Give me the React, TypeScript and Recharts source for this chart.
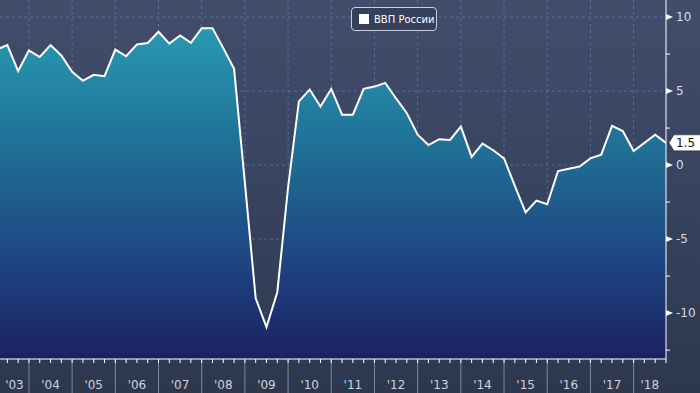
import React from "react";
import { AreaChart, Area, XAxis, YAxis, CartesianGrid, ReferenceDot } from "recharts";

// quarterly GDP growth, y/y %, first value is the quarter ending 2003.25
const firstQuarterEnd = 2003.25;
const gdp = [
  7.8, 8.1, 6.35,
  7.75, 7.3, 8.1, 7.4,
  6.3, 5.7, 6.1, 6.0,
  7.8, 7.35, 8.15, 8.25,
  9.0, 8.2, 8.75, 8.25,
  9.25, 9.25, 7.9, 6.5,
  -1.2, -9.0, -10.95, -8.6,
  -1.5, 4.3, 5.1, 3.95,
  5.15, 3.4, 3.4, 5.15,
  5.3, 5.55, 4.5, 3.5,
  2.05, 1.35, 1.75, 1.7,
  2.6, 0.55, 1.45, 1.0,
  0.45, -1.4, -3.2, -2.4,
  -2.65, -0.4, -0.25, -0.1,
  0.45, 0.7, 2.65, 2.3,
  0.95, 1.5, 2.05, 1.5,
];

const years = [2003, 2004, 2005, 2006, 2007, 2008, 2009, 2010, 2011, 2012, 2013, 2014, 2015, 2016, 2017, 2018];
const yearLabels = ["'03", "'04", "'05", "'06", "'07", "'08", "'09", "'10", "'11", "'12", "'13", "'14", "'15", "'16", "'17", "'18"];
const yMajor = [-10, -5, 0, 5, 10];
const yMinor = [-12.5, -7.5, -2.5, 2.5, 7.5];
const lastValue = 1.5;
const lastLabel = "1.5";
const legendName = "ВВП России";

const xDomain: [number, number] = [2003.33, 2018.75];
const yDomain: [number, number] = [-13.1, 11.15];

const data = gdp.map((v, i) => ({ t: firstQuarterEnd + i * 0.25, v }));
const lastT = data[data.length - 1].t;

const quarterTicks = data.map((d) => d.t).filter((t) => t >= xDomain[0]);
const labelTicks = years.map(
  (y) => (Math.max(y, xDomain[0]) + Math.min(y + 1, xDomain[1])) / 2
);
const xTicks = Array.from(new Set([...quarterTicks, ...labelTicks])).sort((a, b) => a - b);
const yTicks = [...yMajor, ...yMinor].sort((a, b) => a - b);

const FONT = "'DejaVu Sans', sans-serif";

const XTick = (props: any) => {
  const { x, y, payload } = props;
  const v = payload.value as number;
  const isQuarter = Math.abs(v * 4 - Math.round(v * 4)) < 1e-6;
  const isYear = Math.abs(v - Math.round(v)) < 1e-6;
  const li = labelTicks.findIndex((l) => Math.abs(l - v) < 1e-6);
  return (
    <g>
      {isYear && <line x1={x} x2={x} y1={y} y2={y + 34} stroke="#7e889a" strokeWidth={1} />}
      {isQuarter && <line x1={x} x2={x} y1={y} y2={y + 4} stroke="#ffffff" strokeWidth={1} />}
      {li >= 0 && (
        <text x={x} y={y + 30} textAnchor="middle" fill="#cdd2dc" fontSize={12} fontFamily={FONT}>
          {yearLabels[li]}
        </text>
      )}
    </g>
  );
};

const YTick = (props: any) => {
  const { x, y, payload } = props;
  const v = payload.value as number;
  if (!yMajor.includes(v)) {
    return <line x1={x} x2={x + 4} y1={y} y2={y} stroke="#ffffff" strokeWidth={1} />;
  }
  return (
    <g>
      <path d={`M${x},${y - 3}L${x + 7},${y}L${x},${y + 3}Z`} fill="#ffffff" />
      <text x={x + 10} y={y} dy="0.36em" fill="#d8dce4" fontSize={12} fontFamily={FONT}>
        {v}
      </text>
    </g>
  );
};

const LastTag = (p: any) => {
  const { cx, cy } = p;
  return (
    <g>
      <path
        d={`M${cx + 3},${cy} L${cx + 8},${cy - 8} H${cx + 60} V${cy + 8} H${cx + 8} Z`}
        fill="#ffffff"
        stroke="#222"
        strokeWidth={0.5}
      />
      <text x={cx + 10} y={cy} dy="0.36em" fill="#111" fontSize={12} fontFamily={FONT}>
        {lastLabel}
      </text>
    </g>
  );
};

export default function App() {
  return (
    <div
      style={{
        position: "absolute",
        left: 0,
        top: 0,
        width: 700,
        height: 393,
        background: "linear-gradient(to bottom, #414d6b 0%, #37435f 50%, #2d384f 100%)",
      }}
    >
      <AreaChart width={700} height={393} data={data} margin={{ top: 0, right: 0, bottom: 0, left: 0 }}>
        <defs>
          <linearGradient id="gdpFill" x1="0" y1="0" x2="0" y2="1">
            <stop offset="0%" stopColor="#2799b2" />
            <stop offset="40%" stopColor="#1f6b93" />
            <stop offset="70%" stopColor="#1d4682" />
            <stop offset="100%" stopColor="#1b2163" />
          </linearGradient>
        </defs>
        <XAxis
          dataKey="t"
          type="number"
          domain={xDomain}
          allowDataOverflow
          ticks={xTicks}
          interval={0}
          height={34}
          tickSize={0}
          tickMargin={0}
          tickLine={false}
          axisLine={{ stroke: "#ffffff", strokeWidth: 1 }}
          tick={<XTick />}
        />
        <YAxis
          orientation="right"
          type="number"
          domain={yDomain}
          allowDataOverflow
          ticks={yTicks}
          interval={0}
          width={34}
          tickSize={0}
          tickMargin={0}
          tickLine={false}
          axisLine={{ stroke: "#ffffff", strokeWidth: 1 }}
          tick={<YTick />}
        />
        <Area
          type="linear"
          dataKey="v"
          stroke="#ffffff"
          strokeWidth={2}
          fill="url(#gdpFill)"
          fillOpacity={1}
          baseValue="dataMin"
          dot={false}
          activeDot={false}
          isAnimationActive={false}
        />
        <CartesianGrid
          stroke="#7fa3cc"
          strokeOpacity={0.4}
          strokeDasharray="3 3"
          horizontalValues={yMajor}
          verticalValues={years.slice(1)}
        />
        <ReferenceDot x={lastT} y={lastValue} ifOverflow="visible" shape={LastTag} />
      </AreaChart>
      <div
        style={{
          position: "absolute",
          left: 351,
          top: 7,
          width: 86,
          height: 24,
          boxSizing: "border-box",
          border: "1px solid #c9ced8",
          borderRadius: 4,
          background: "#34405c",
          display: "flex",
          alignItems: "center",
          paddingLeft: 7,
          fontFamily: FONT,
          fontSize: 10,
          color: "#ffffff",
        }}
      >
        <span style={{ display: "inline-block", width: 10, height: 10, background: "#ffffff", marginRight: 5 }} />
        {legendName}
      </div>
    </div>
  );
}
